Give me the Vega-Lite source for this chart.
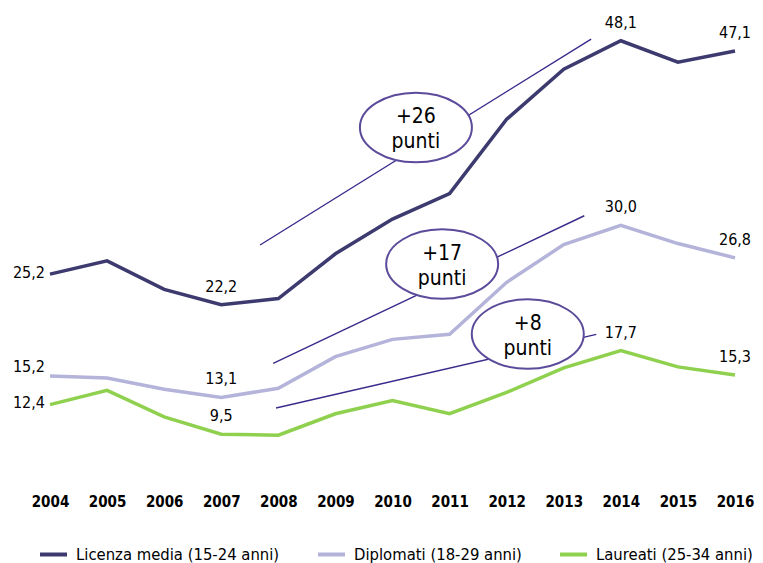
{
  "$schema": "https://vega.github.io/schema/vega-lite/v6.json",
  "autosize": {"type": "none"},
  "width": 685,
  "height": 480,
  "padding": {"left": 50, "top": 0, "right": 28, "bottom": 83},
  "background": "white",
  "config": {
    "view": {"stroke": null},
    "font": "DejaVu Sans Condensed",
    "text": {"font": "DejaVu Sans Condensed"}
  },
  "datasets": {
    "series": [
      {"year": 2004, "serie": "Licenza media (15-24 anni)", "value": 25.2, "label": "25,2"},
      {"year": 2005, "serie": "Licenza media (15-24 anni)", "value": 26.5, "label": ""},
      {"year": 2006, "serie": "Licenza media (15-24 anni)", "value": 23.7, "label": ""},
      {"year": 2007, "serie": "Licenza media (15-24 anni)", "value": 22.2, "label": "22,2"},
      {"year": 2008, "serie": "Licenza media (15-24 anni)", "value": 22.8, "label": ""},
      {"year": 2009, "serie": "Licenza media (15-24 anni)", "value": 27.2, "label": ""},
      {"year": 2010, "serie": "Licenza media (15-24 anni)", "value": 30.6, "label": ""},
      {"year": 2011, "serie": "Licenza media (15-24 anni)", "value": 33.1, "label": ""},
      {"year": 2012, "serie": "Licenza media (15-24 anni)", "value": 40.4, "label": ""},
      {"year": 2013, "serie": "Licenza media (15-24 anni)", "value": 45.3, "label": ""},
      {"year": 2014, "serie": "Licenza media (15-24 anni)", "value": 48.1, "label": "48,1"},
      {"year": 2015, "serie": "Licenza media (15-24 anni)", "value": 46.0, "label": ""},
      {"year": 2016, "serie": "Licenza media (15-24 anni)", "value": 47.1, "label": "47,1"},
      {"year": 2004, "serie": "Diplomati (18-29 anni)", "value": 15.2, "label": "15,2"},
      {"year": 2005, "serie": "Diplomati (18-29 anni)", "value": 15.0, "label": ""},
      {"year": 2006, "serie": "Diplomati (18-29 anni)", "value": 13.9, "label": ""},
      {"year": 2007, "serie": "Diplomati (18-29 anni)", "value": 13.1, "label": "13,1"},
      {"year": 2008, "serie": "Diplomati (18-29 anni)", "value": 14.0, "label": ""},
      {"year": 2009, "serie": "Diplomati (18-29 anni)", "value": 17.1, "label": ""},
      {"year": 2010, "serie": "Diplomati (18-29 anni)", "value": 18.8, "label": ""},
      {"year": 2011, "serie": "Diplomati (18-29 anni)", "value": 19.3, "label": ""},
      {"year": 2012, "serie": "Diplomati (18-29 anni)", "value": 24.4, "label": ""},
      {"year": 2013, "serie": "Diplomati (18-29 anni)", "value": 28.1, "label": ""},
      {"year": 2014, "serie": "Diplomati (18-29 anni)", "value": 30.0, "label": "30,0"},
      {"year": 2015, "serie": "Diplomati (18-29 anni)", "value": 28.2, "label": ""},
      {"year": 2016, "serie": "Diplomati (18-29 anni)", "value": 26.8, "label": "26,8"},
      {"year": 2004, "serie": "Laureati (25-34 anni)", "value": 12.4, "label": "12,4"},
      {"year": 2005, "serie": "Laureati (25-34 anni)", "value": 13.8, "label": ""},
      {"year": 2006, "serie": "Laureati (25-34 anni)", "value": 11.2, "label": ""},
      {"year": 2007, "serie": "Laureati (25-34 anni)", "value": 9.5, "label": "9,5"},
      {"year": 2008, "serie": "Laureati (25-34 anni)", "value": 9.4, "label": ""},
      {"year": 2009, "serie": "Laureati (25-34 anni)", "value": 11.5, "label": ""},
      {"year": 2010, "serie": "Laureati (25-34 anni)", "value": 12.8, "label": ""},
      {"year": 2011, "serie": "Laureati (25-34 anni)", "value": 11.5, "label": ""},
      {"year": 2012, "serie": "Laureati (25-34 anni)", "value": 13.6, "label": ""},
      {"year": 2013, "serie": "Laureati (25-34 anni)", "value": 16.0, "label": ""},
      {"year": 2014, "serie": "Laureati (25-34 anni)", "value": 17.7, "label": "17,7"},
      {"year": 2015, "serie": "Laureati (25-34 anni)", "value": 16.1, "label": ""},
      {"year": 2016, "serie": "Laureati (25-34 anni)", "value": 15.3, "label": "15,3"}
    ],
    "arrows": [
      {"id": "L1", "x1": 2007.68, "y1": 28.06, "x2": 2013.48, "y2": 48.27},
      {"id": "L2", "x1": 2007.91, "y1": 16.45, "x2": 2013.36, "y2": 30.93},
      {"id": "L3", "x1": 2007.96, "y1": 12.06, "x2": 2013.57, "y2": 19.29}
    ],
    "bubbles": [
      {"x": 2010.41, "y": 39.59, "text": "+26\npunti"},
      {"x": 2010.87, "y": 26.19, "text": "+17\npunti"},
      {"x": 2012.37, "y": 19.32, "text": "+8\npunti"}
    ]
  },
  "layer": [
    {
      "data": {"name": "series"},
      "mark": {"type": "line", "strokeWidth": 3.5, "strokeJoin": "miter"},
      "encoding": {
        "x": {
          "field": "year", "type": "quantitative",
          "scale": {"domain": [2004, 2016], "nice": false, "zero": false},
          "axis": {
            "values": [2004, 2005, 2006, 2007, 2008, 2009, 2010, 2011, 2012, 2013, 2014, 2015, 2016],
            "format": "d", "title": null, "domain": false, "ticks": false, "tickSize": 0, "grid": false,
            "labelFont": "DejaVu Sans Condensed", "labelFontWeight": "bold", "labelFontSize": 15,
            "labelColor": "#000000", "labelBaseline": "middle", "labelPadding": 21, "labelFlush": false
          }
        },
        "y": {
          "field": "value", "type": "quantitative",
          "scale": {"domain": [5, 52.1], "nice": false, "zero": false},
          "axis": null
        },
        "color": {
          "field": "serie", "type": "nominal",
          "scale": {
            "domain": ["Licenza media (15-24 anni)", "Diplomati (18-29 anni)", "Laureati (25-34 anni)"],
            "range": ["#3c3a6e", "#b4b3da", "#8fd14f"]
          },
          "legend": {
            "title": null, "orient": "none", "legendX": -12, "legendY": 539,
            "direction": "horizontal", "symbolType": "stroke", "symbolStrokeWidth": 4,
            "symbolSize": 729, "labelFontSize": 16.5, "labelFont": "DejaVu Sans Condensed",
            "labelColor": "#000000", "labelOffset": 7, "columnPadding": 30, "labelLimit": 400
          }
        }
      }
    },
    {
      "data": {"name": "arrows"},
      "mark": {"type": "rule", "color": "#3b2a8c", "strokeWidth": 1.4},
      "encoding": {
        "x": {"field": "x1", "type": "quantitative"},
        "y": {"field": "y1", "type": "quantitative"},
        "x2": {"field": "x2"},
        "y2": {"field": "y2"}
      }
    },
    {
      "data": {"name": "bubbles"},
      "mark": {
        "type": "point", "filled": false,
        "shape": "M -1 0 A 1 0.62 0 1 1 1 0 A 1 0.62 0 1 1 -1 0 Z",
        "size": 12544, "fill": "white", "fillOpacity": 1, "stroke": "#5c4b9b", "strokeWidth": 2, "opacity": 1
      },
      "encoding": {
        "x": {"field": "x", "type": "quantitative"},
        "y": {"field": "y", "type": "quantitative"}
      }
    },
    {
      "data": {"name": "bubbles"},
      "mark": {
        "type": "text", "lineBreak": "\n", "lineHeight": 25, "fontSize": 21,
        "align": "center", "baseline": "middle", "color": "#000000", "dy": -10
      },
      "encoding": {
        "x": {"field": "x", "type": "quantitative"},
        "y": {"field": "y", "type": "quantitative"},
        "text": {"field": "text"}
      }
    },
    {
      "data": {"name": "series"},
      "transform": [{"filter": "datum.label != '' && datum.year != 2004"}],
      "mark": {"type": "text", "fontSize": 16, "align": "center", "baseline": "middle", "dy": -18, "color": "#000000"},
      "encoding": {
        "x": {"field": "year", "type": "quantitative"},
        "y": {"field": "value", "type": "quantitative"},
        "text": {"field": "label"}
      }
    },
    {
      "data": {"name": "series"},
      "transform": [{"filter": "datum.year == 2004 && datum.serie != 'Diplomati (18-29 anni)'"}],
      "mark": {"type": "text", "fontSize": 16, "align": "right", "baseline": "middle", "dx": -5, "dy": -1.5, "color": "#000000"},
      "encoding": {
        "x": {"field": "year", "type": "quantitative"},
        "y": {"field": "value", "type": "quantitative"},
        "text": {"field": "label"}
      }
    },
    {
      "data": {"name": "series"},
      "transform": [{"filter": "datum.year == 2004 && datum.serie == 'Diplomati (18-29 anni)'"}],
      "mark": {"type": "text", "fontSize": 16, "align": "right", "baseline": "middle", "dx": -5, "dy": -9, "color": "#000000"},
      "encoding": {
        "x": {"field": "year", "type": "quantitative"},
        "y": {"field": "value", "type": "quantitative"},
        "text": {"field": "label"}
      }
    }
  ]
}
